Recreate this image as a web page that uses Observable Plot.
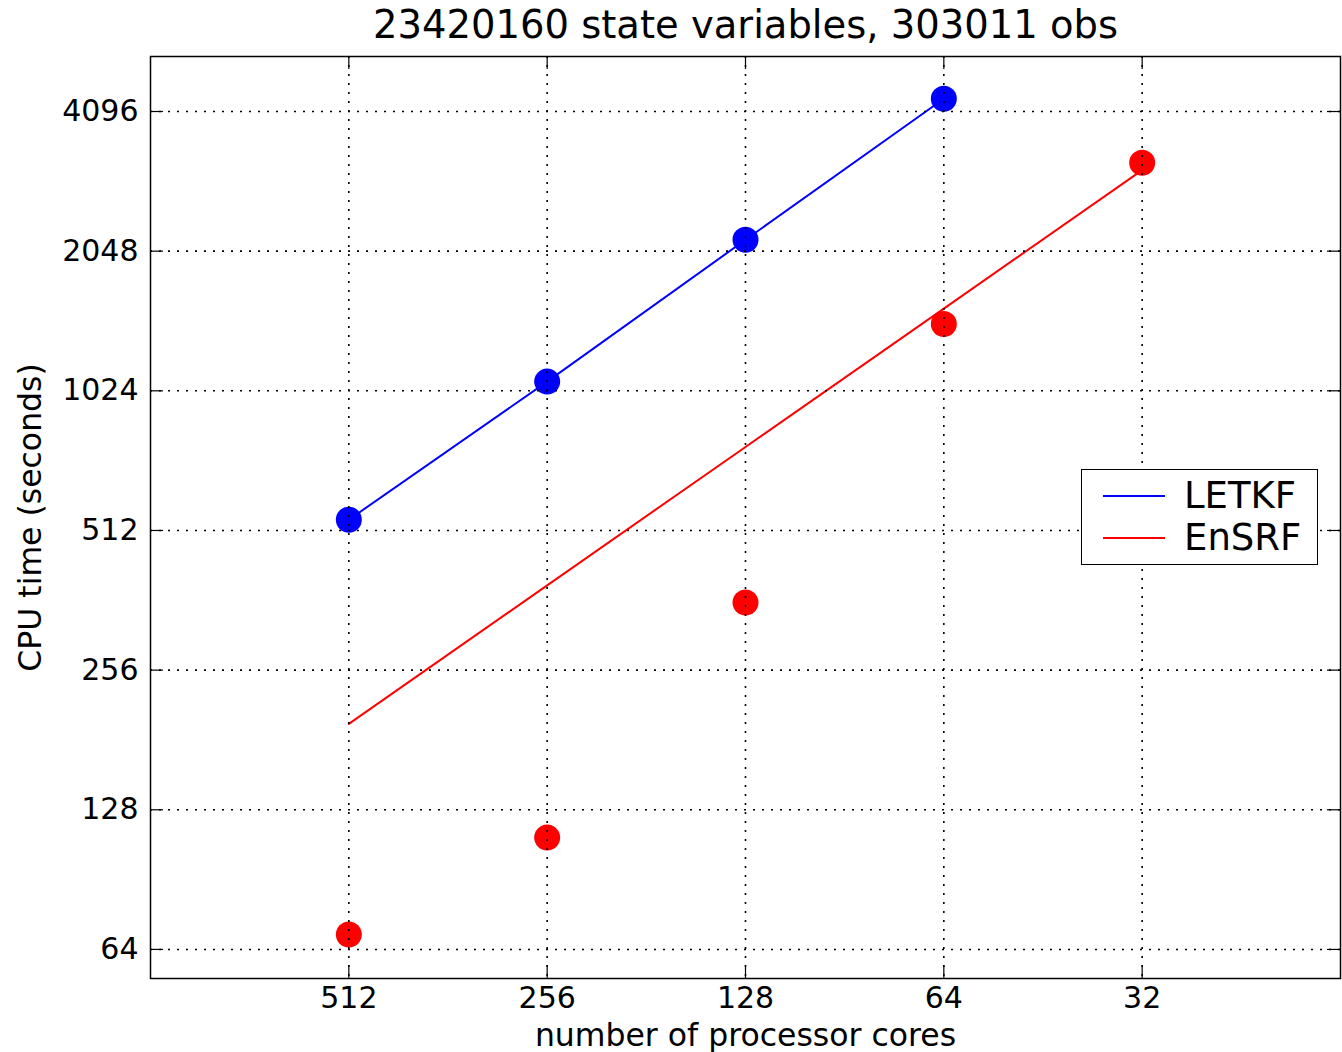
<!DOCTYPE html>
<html>
<head>
<meta charset="utf-8">
<script src="https://cdn.jsdelivr.net/npm/d3@7"></script>
<script src="https://cdn.jsdelivr.net/npm/@observablehq/plot@0.6"></script>
<style>
  html, body { margin: 0; padding: 0; background: #fff; }
  body { font-family: "DejaVu Sans", sans-serif; }
  #wrap { position: relative; width: 1342px; height: 1052px; }
  #legend {
    position: absolute; left: 1081px; top: 469px; width: 235px; height: 94px;
    border: 1.5px solid #000; background: #fff; box-sizing: content-box;
    font-family: "DejaVu Sans", sans-serif; font-size: 37px; color: #000;
  }
  .row { position: absolute; left: 0; height: 40px; display: flex; align-items: center; line-height: 40px; }
  .sw { display: inline-block; width: 62px; height: 0; margin-left: 21px; margin-right: 19px; }
</style>
</head>
<body>
<div id="wrap"></div>
<script>
const title = "23420160 state variables, 303011 obs";
const xLabel = "number of processor cores";
const yLabel = "CPU time (seconds)";
const xTicks = [512, 256, 128, 64, 32];
const yTicks = [64, 128, 256, 512, 1024, 2048, 4096];

const letkfCores = [512, 256, 128, 64];
const letkfTime = [540, 1072, 2167, 4363];

const ensrfCores = [512, 256, 128, 64, 32];
const ensrfTime = [68.9, 111.5, 358, 1427, 3177];
const ensrfFit = [196, 390, 775, 1540, 3062];

const seriesNames = ["LETKF", "EnSRF"];
const seriesColors = ["#0000ff", "#ff0000"];

const letkf = letkfCores.map((c, i) => ({cores: c, time: letkfTime[i]}));
const ensrf = ensrfCores.map((c, i) => ({cores: c, time: ensrfTime[i]}));
const ensrfLine = ensrfCores.map((c, i) => ({cores: c, time: ensrfFit[i]}));

const plot = Plot.plot({
  width: 1342,
  height: 1052,
  marginLeft: 150,
  marginRight: 2,
  marginTop: 56,
  marginBottom: 74,
  style: {fontFamily: "DejaVu Sans, sans-serif", color: "#000", background: "#fff"},
  x: {type: "log", base: 2, domain: [1024, 16]},
  y: {type: "log", base: 2, domain: [55.4, 5382]},
  marks: [
    Plot.line(letkf, {x: "cores", y: "time", stroke: seriesColors[0], strokeWidth: 2}),
    Plot.line(ensrfLine, {x: "cores", y: "time", stroke: seriesColors[1], strokeWidth: 2}),
    Plot.dot(letkf, {x: "cores", y: "time", r: 13, fill: seriesColors[0], stroke: null}),
    Plot.dot(ensrf, {x: "cores", y: "time", r: 13, fill: seriesColors[1], stroke: null}),
    Plot.gridX(xTicks, {stroke: "#000", strokeOpacity: 1, strokeWidth: 1.6, strokeDasharray: "2,7"}),
    Plot.gridY(yTicks, {stroke: "#000", strokeOpacity: 1, strokeWidth: 1.6, strokeDasharray: "2,7"}),
    Plot.tickX(xTicks, {x: d => d, insetTop: 909, stroke: "#000", strokeWidth: 1.2}),
    Plot.tickX(xTicks, {x: d => d, insetBottom: 909, stroke: "#000", strokeWidth: 1.2}),
    Plot.tickY(yTicks, {y: d => d, insetRight: 1177, stroke: "#000", strokeWidth: 1.2}),
    Plot.tickY(yTicks, {y: d => d, insetLeft: 1177, stroke: "#000", strokeWidth: 1.2}),
    Plot.frame({stroke: "#000", strokeWidth: 1.5}),
    Plot.axisX(xTicks, {tickSize: 0, tickPadding: 8, fontSize: 30, label: null, tickFormat: d => String(d)}),
    Plot.axisY(yTicks, {tickSize: 0, tickPadding: 12, fontSize: 30, label: null, tickFormat: d => String(d)}),
    Plot.text([title], {frameAnchor: "top", lineAnchor: "middle", dy: -31, fontSize: 38.5, text: d => d}),
    Plot.text([xLabel], {frameAnchor: "bottom", lineAnchor: "middle", dy: 57, fontSize: 31.5, text: d => d}),
    Plot.text([yLabel], {frameAnchor: "left", textAnchor: "middle", lineAnchor: "middle", dx: -120, rotate: -90, fontSize: 31.5, text: d => d})
  ]
});

const wrap = document.getElementById("wrap");
wrap.appendChild(plot);

const legend = document.createElement("div");
legend.id = "legend";
seriesNames.forEach((name, i) => {
  const row = document.createElement("div");
  row.className = "row";
  row.style.top = (6 + i * 42) + "px";
  const sw = document.createElement("span");
  sw.className = "sw";
  sw.style.borderTop = "2px solid " + seriesColors[i];
  const tx = document.createElement("span");
  tx.textContent = name;
  row.appendChild(sw);
  row.appendChild(tx);
  legend.appendChild(row);
});
wrap.appendChild(legend);
</script>
</body>
</html>
